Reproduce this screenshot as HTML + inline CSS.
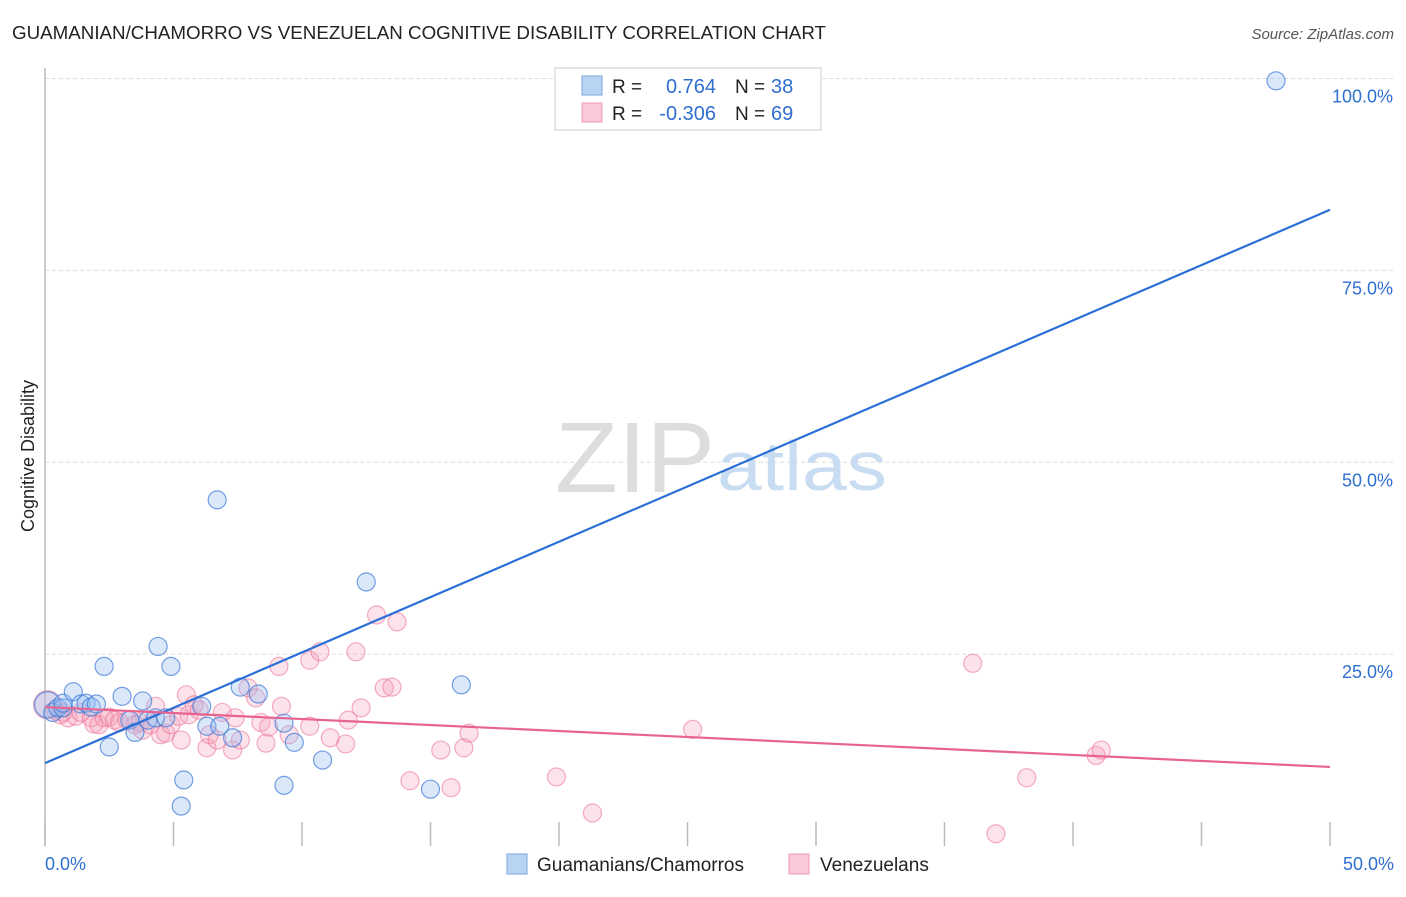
<!DOCTYPE html>
<html><head><meta charset="utf-8"><style>
body{margin:0;background:#fff;font-family:"Liberation Sans",sans-serif;}
svg text{font-family:"Liberation Sans",sans-serif;}
</style></head><body>
<svg width="1406" height="892">
<text x="12" y="39" font-size="18" fill="#222" textLength="814" lengthAdjust="spacingAndGlyphs">GUAMANIAN/CHAMORRO VS VENEZUELAN COGNITIVE DISABILITY CORRELATION CHART</text>
<text x="1394" y="39" font-size="15" fill="#555" text-anchor="end" font-style="italic">Source: ZipAtlas.com</text>
<g id="grid"></g>
<line x1="45" y1="68" x2="45" y2="846" stroke="#bbb" stroke-width="1.5"/>
<text x="555" y="492" font-size="100" font-family="Liberation Serif" fill="#ddd" textLength="160" lengthAdjust="spacingAndGlyphs">ZIP</text>
<text x="717" y="490" font-size="70" fill="#c8dcf2" textLength="170" lengthAdjust="spacingAndGlyphs">atlas</text>
<text x="34" y="456" font-size="18" fill="#222" text-anchor="middle" transform="rotate(-90 34 456)">Cognitive Disability</text>
<g id="pts"></g>
<g id="lines"></g>
<g>
<rect x="555" y="68" width="266" height="62" fill="#fff" stroke="#ccc"/>
<rect x="582" y="76" width="20" height="19" fill="#b9d3f3" stroke="#7aa7e0"/>
<rect x="582" y="103" width="20" height="19" fill="#fac8d6" stroke="#ee9ab3"/>
<text x="612" y="93" font-size="19" fill="#222">R =</text>
<text x="716" y="93" font-size="20" fill="#2f6fd0" text-anchor="end">0.764</text>
<text x="735" y="93" font-size="19" fill="#222">N =</text>
<text x="771" y="93" font-size="20" fill="#2f6fd0">38</text>
<text x="612" y="120" font-size="19" fill="#222">R =</text>
<text x="716" y="120" font-size="20" fill="#2f6fd0" text-anchor="end">-0.306</text>
<text x="735" y="120" font-size="19" fill="#222">N =</text>
<text x="771" y="120" font-size="20" fill="#2f6fd0">69</text>
</g>
<g>
<rect x="507" y="854" width="20" height="20" fill="#b9d3f3" stroke="#7aa7e0"/>
<text x="537" y="871" font-size="19" fill="#222">Guamanians/Chamorros</text>
<rect x="789" y="854" width="20" height="20" fill="#fac8d6" stroke="#ee9ab3"/>
<text x="820" y="871" font-size="19" fill="#222">Venezuelans</text>
</g>
<text x="45" y="870" font-size="18" fill="#2f6fd0">0.0%</text>
<text x="1394" y="870" font-size="18" fill="#2f6fd0" text-anchor="end">50.0%</text>
</svg>
<script>
const yTicks=[25,50,75,100];
const yTickLabels=["25.0%","50.0%","75.0%","100.0%"];
const xTicks=[0,5,10,15,20,25,30,35,40,45,50];
const blueX=[0.1,0.3,0.5,0.7,0.7,1.1,1.4,1.6,1.8,2.0,2.3,2.5,3.0,3.3,3.5,3.8,4.0,4.3,4.4,4.7,4.9,5.4,5.3,6.1,6.3,6.7,6.8,7.3,7.6,8.3,9.3,9.3,9.7,10.8,12.5,15.0,16.2,47.9];
const blueY=[18.4,17.4,18.0,18.0,18.6,20.1,18.5,18.6,18.1,18.5,23.4,12.9,19.5,16.4,14.8,18.9,16.4,16.7,26.0,16.7,23.4,8.6,5.2,18.2,15.6,45.1,15.6,14.1,20.7,19.8,16.0,7.9,13.5,11.2,34.4,7.4,21.0,99.7];
const pinkX=[0.1,0.4,0.6,0.7,0.9,1.2,1.4,1.8,1.9,2.1,2.3,2.5,2.7,2.9,3.2,3.5,3.7,3.8,4.1,4.3,4.5,4.7,4.9,5.2,5.3,5.5,5.6,5.8,6.0,6.3,6.4,6.7,6.9,7.3,7.4,7.6,7.9,8.2,8.4,8.6,8.7,9.1,9.2,9.5,10.3,10.3,10.7,11.1,11.7,11.8,12.1,12.3,12.9,13.2,13.5,13.7,14.2,15.4,15.8,16.3,16.5,19.9,21.3,25.2,36.1,37.0,38.2,40.9,41.1];
const pinkY=[18.4,17.7,17.1,17.4,16.7,16.9,17.4,16.7,15.9,15.8,16.7,16.8,16.4,16.1,16.4,15.8,16.1,15.1,15.8,18.2,14.5,14.7,15.8,16.9,13.8,19.7,17.1,18.4,17.7,12.8,14.5,13.8,17.4,12.5,16.7,13.8,20.6,19.3,16.1,13.4,15.5,23.4,18.2,14.5,24.2,15.6,25.3,14.1,13.3,16.4,25.3,18.0,30.1,20.6,20.7,29.2,8.5,12.5,7.6,12.8,14.7,9.0,4.3,15.2,23.8,1.6,8.9,11.8,12.5];
const blueLine=[10.8,82.9];
const pinkLine=[18.1,10.3];
const NS='http://www.w3.org/2000/svg';
const xs=v=>45+v*25.7;
const ys=v=>846-v*7.675;
function mk(t,a,p){const e=document.createElementNS(NS,t);for(const k in a)e.setAttribute(k,a[k]);p.appendChild(e);return e;}
const grid=document.getElementById('grid');
yTicks.forEach((t,i)=>{
 const l=mk('line',{x1:45,x2:1394,y1:ys(t),y2:ys(t),stroke:'#ddd','stroke-dasharray':'4,3'},grid);
 
 
 const tx=mk('text',{x:1393,y:ys(t)+24,'font-size':18,fill:'#2f6fd0','text-anchor':'end'},grid);
 tx.textContent=yTickLabels[i];
 
 
});
xTicks.forEach(t=>{
 const l=mk('line',{x1:xs(t),x2:xs(t),y1:822,y2:846,stroke:'#bbb','stroke-width':1.5},grid);
 
 
});
const pts=document.getElementById('pts');
pinkX.forEach((x,i)=>{
 const c=mk('circle',{cx:xs(x),cy:ys(pinkY[i]),r:i==0?14:9,fill:'rgba(246,160,185,0.3)',stroke:'rgba(236,120,155,0.6)','stroke-width':1.2},pts);
 
 
});
blueX.forEach((x,i)=>{
 const c=mk('circle',{cx:xs(x),cy:ys(blueY[i]),r:i==0?13:9,fill:'rgba(150,190,240,0.35)',stroke:'rgba(60,120,215,0.7)','stroke-width':1.2},pts);
 
 
});
const lines=document.getElementById('lines');
const bl=mk('line',{x1:xs(0),y1:ys(blueLine[0]),x2:xs(50),y2:ys(blueLine[1]),stroke:'#2a6fd6','stroke-width':2.2},lines);


const pl=mk('line',{x1:xs(0),y1:ys(pinkLine[0]),x2:xs(50),y2:ys(pinkLine[1]),stroke:'#e8648f','stroke-width':2.2},lines);


</script>
</body></html>
